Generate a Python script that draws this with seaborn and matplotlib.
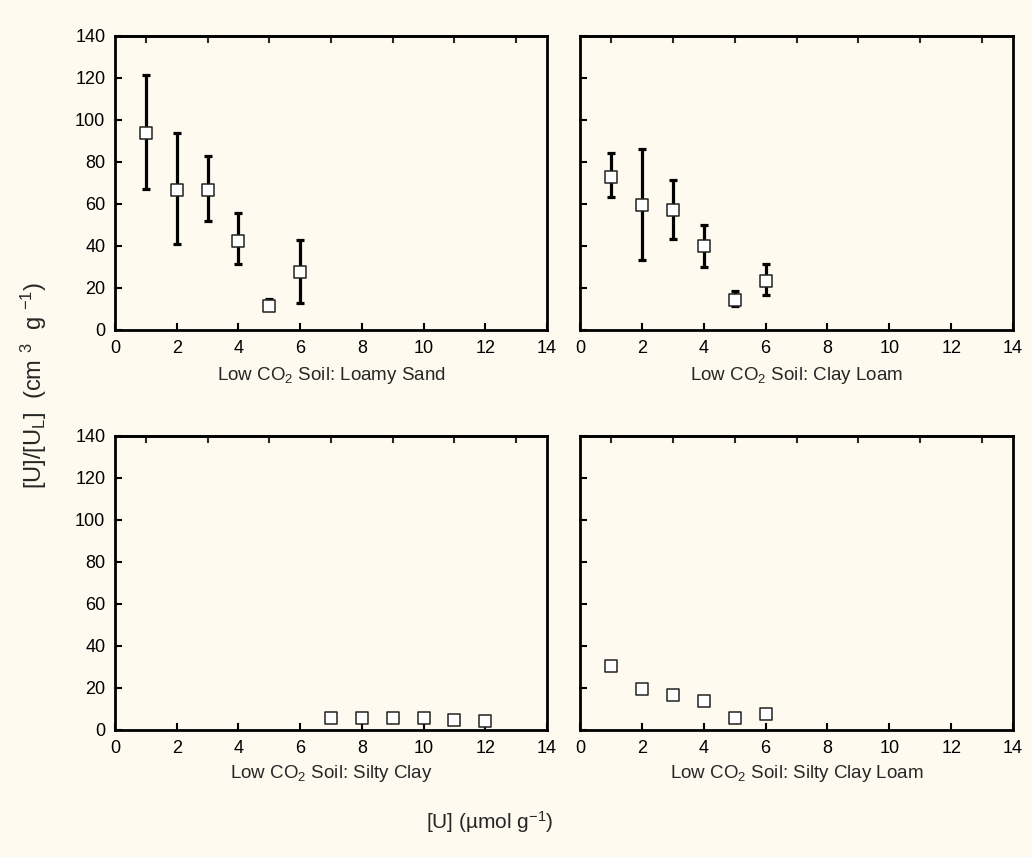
import matplotlib
matplotlib.use("Agg")
import matplotlib.pyplot as plt
import seaborn as sns
import pandas as pd
import numpy as np

# ---- data ----
x_low = [1, 2, 3, 4, 5, 6]
x_silty_clay = [7, 8, 9, 10, 11, 12]

loamy_sand_y = [94, 66.5, 66.5, 42.5, 11.5, 27.5]
loamy_sand_lo = [67, 41, 52, 31.5, 9.5, 13]
loamy_sand_hi = [121.5, 94, 83, 55.5, 15, 43]

clay_loam_y = [73, 59.5, 57, 40, 14.5, 23.5]
clay_loam_lo = [63.5, 33.5, 43.5, 30, 11.5, 16.5]
clay_loam_hi = [84.5, 86, 71.5, 50, 18.5, 31.5]

silty_clay_y = [5.6, 5.6, 5.6, 5.5, 4.6, 4.5]

silty_clay_loam_y = [30.7, 19.6, 16.5, 13.6, 5.5, 7.4]

titles = ["Low CO$_2$ Soil: Loamy Sand", "Low CO$_2$ Soil: Clay Loam",
          "Low CO$_2$ Soil: Silty Clay", "Low CO$_2$ Soil: Silty Clay Loam"]
x_ticks = [0, 2, 4, 6, 8, 10, 12, 14]
y_ticks = [0, 20, 40, 60, 80, 100, 120, 140]

bg = "#FEFAEF"
sns.set_theme(style="ticks")
plt.rcParams["font.family"] = ["Liberation Sans", "DejaVu Sans"]
plt.rcParams["mathtext.fontset"] = "custom"
plt.rcParams["mathtext.rm"] = "Liberation Sans"
plt.rcParams["mathtext.it"] = "Liberation Sans"

fig = plt.figure(figsize=(10.32, 8.57), dpi=100, facecolor=bg)

W, H = 1032, 857
def pos(l, r, t, b):
    return [l / W, 1 - b / H, (r - l) / W, (b - t) / H]

boxes = [pos(115, 547, 36, 330), pos(580, 1013, 36, 330),
         pos(115, 547, 436, 730), pos(580, 1013, 436, 730)]

panels = [
    (x_low, loamy_sand_y, loamy_sand_lo, loamy_sand_hi),
    (x_low, clay_loam_y, clay_loam_lo, clay_loam_hi),
    (x_silty_clay, silty_clay_y, None, None),
    (x_low, silty_clay_loam_y, None, None),
]

title_y = [375, 375, 773, 773]
for i, (box, (xs, ys, lo, hi)) in enumerate(zip(boxes, panels)):
    ax = fig.add_axes(box)
    ax.set_facecolor(bg)
    if lo is not None:
        ys_a = np.array(ys)
        yerr = [ys_a - np.array(lo), np.array(hi) - ys_a]
        ax.errorbar(xs, ys, yerr=yerr, fmt="none", ecolor="black",
                    elinewidth=2.3, capsize=3, capthick=2.3, zorder=2)
    df = pd.DataFrame({"x": xs, "y": ys})
    sns.scatterplot(data=df, x="x", y="y", ax=ax, marker="s", s=75,
                    facecolor="white", edgecolor="#222222", linewidth=1.1,
                    zorder=3)
    ax.set_xlim(0, 14)
    ax.set_ylim(0, 140)
    ax.set_xticks(x_ticks)
    ax.set_yticks(y_ticks)
    ax.set_xlabel("")
    ax.set_ylabel("")
    ax.tick_params(direction="in", length=5, width=1.5, labelsize=13,
                   colors="black", pad=7)
    if i % 2 == 1:
        ax.tick_params(labelleft=False)
    for s in ax.spines.values():
        s.set_linewidth(2)
        s.set_color("black")
    sec = ax.secondary_xaxis("top")
    sec.set_xticks([1, 3, 5, 7, 9, 11, 13])
    sec.tick_params(direction="in", length=5, width=1.5, labeltop=False)
    sec.spines["top"].set_linewidth(2)
    cx = (box[0] + box[2] / 2)
    fig.text(cx, 1 - title_y[i] / H, titles[i], ha="center", va="center",
             fontsize=13.5)

fig.text(34 / W, 1 - 385 / H,
         "[U]/[U$_{\\mathregular{L}}$]  (cm $^{3}$  g $^{-1}$)",
         rotation=90, ha="center", va="center", fontsize=17)
fig.text(490 / W, 1 - 822 / H, "[U] (\u00b5mol g$^{-1}$)",
         ha="center", va="center", fontsize=15)

fig.savefig("out.png", dpi=100, facecolor=bg)
